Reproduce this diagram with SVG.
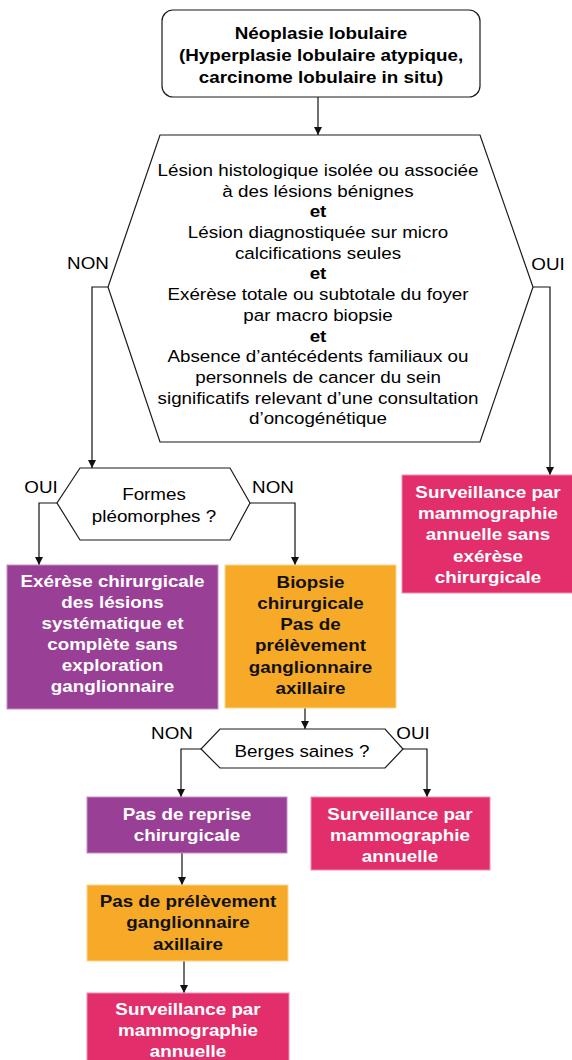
<svg xmlns="http://www.w3.org/2000/svg" width="572" height="1060" viewBox="0 0 572 1060">
  <style>
    text { font-family: "Liberation Sans", Arial, sans-serif; font-size: 16.5px; text-anchor: middle; }
    .b { font-weight: bold; }
    .w { fill: #ffffff; font-weight: bold; }
    .k { fill: #111111; font-weight: bold; }
    .shape { fill: #ffffff; stroke: #1a1a1a; stroke-width: 1.2; }
    .purple { fill: #9a3f96; stroke: #c58fc2; stroke-width: 1; }
    .orange { fill: #f7aa27; stroke: #fcd590; stroke-width: 1; }
    .pink { fill: #e22f6b; stroke: #f08fb0; stroke-width: 1; }
    .link { fill: none; stroke: #111111; stroke-width: 1.2; marker-end: url(#arrow); }
  </style>
  <defs>
    <marker id="arrow" markerUnits="userSpaceOnUse" markerWidth="9" markerHeight="9" refX="8" refY="4" orient="auto">
      <path d="M0,0 L8,4 L0,8 Z" fill="#111111"/>
    </marker>
  </defs>
  <rect width="572" height="1060" fill="#ffffff"/>

  <!-- connectors -->
  <g id="connectors">
    <path class="link" d="M318,97 V135"/>
    <path class="link" d="M108,287 H92 V468"/>
    <path class="link" d="M533,287 H550 V475"/>
    <path class="link" d="M57,503 H39 V565"/>
    <path class="link" d="M250,503 H295 V565"/>
    <path class="link" d="M305,708 V729"/>
    <path class="link" d="M201,749 H181 V797"/>
    <path class="link" d="M403,749 H427 V797"/>
    <path class="link" d="M182,853 V885"/>
    <path class="link" d="M184,961 V993"/>
  </g>

  <!-- branch labels -->
  <g id="labels">
    <g transform="translate(88 0) scale(1.14 1)"><text x="0" y="269">NON</text></g>
    <g transform="translate(548 0) scale(1.14 1)"><text x="0" y="270">OUI</text></g>
    <g transform="translate(41 0) scale(1.14 1)"><text x="0" y="493">OUI</text></g>
    <g transform="translate(273 0) scale(1.14 1)"><text x="0" y="493">NON</text></g>
    <g transform="translate(172 0) scale(1.14 1)"><text x="0" y="739">NON</text></g>
    <g transform="translate(413 0) scale(1.14 1)"><text x="0" y="739">OUI</text></g>
  </g>

  <!-- start -->
  <g id="node-start">
    <rect class="shape" x="162" y="10" width="318" height="87" rx="11"/>
    <g transform="translate(321 0) scale(1.14 1)">
      <text class="b" x="0" y="39">Néoplasie lobulaire</text>
      <text class="b" x="0" y="61">(Hyperplasie lobulaire atypique,</text>
      <text class="b" x="0" y="83">carcinome lobulaire in situ)</text>
    </g>
  </g>

  <!-- criteria -->
  <g id="node-criteria">
    <polygon class="shape" points="160,135 480,135 533,287 480,442 160,442 108,287"/>
    <g transform="translate(318 0) scale(1.14 1)">
      <text x="0" y="176">Lésion histologique isolée ou associée</text>
      <text x="0" y="196.7">à des lésions bénignes</text>
      <text class="b" x="0" y="217.4">et</text>
      <text x="0" y="238.1">Lésion diagnostiquée sur micro</text>
      <text x="0" y="258.8">calcifications seules</text>
      <text class="b" x="0" y="279.5">et</text>
      <text x="0" y="300.2">Exérèse totale ou subtotale du foyer</text>
      <text x="0" y="320.9">par macro biopsie</text>
      <text class="b" x="0" y="341.6">et</text>
      <text x="0" y="362.3">Absence d’antécédents familiaux ou</text>
      <text x="0" y="383">personnels de cancer du sein</text>
      <text x="0" y="403.7">significatifs relevant d’une consultation</text>
      <text x="0" y="424.4">d’oncogénétique</text>
    </g>
  </g>

  <!-- pleomorphic question -->
  <g id="node-pleomorphic">
    <polygon class="shape" points="80,468 230,468 250,503 230,540 80,540 57,503"/>
    <g transform="translate(154 0) scale(1.14 1)">
      <text x="0" y="500">Formes</text>
      <text x="0" y="522">pléomorphes ?</text>
    </g>
  </g>

  <!-- surveillance without excision -->
  <g id="node-surveillance-1">
    <rect class="pink" x="402" y="475" width="172" height="118"/>
    <g transform="translate(488 0) scale(1.14 1)">
      <text class="w" x="0" y="498">Surveillance par</text>
      <text class="w" x="0" y="519">mammographie</text>
      <text class="w" x="0" y="540.5">annuelle sans</text>
      <text class="w" x="0" y="562">exérèse</text>
      <text class="w" x="0" y="583">chirurgicale</text>
    </g>
  </g>

  <!-- surgical excision -->
  <g id="node-excision">
    <rect class="purple" x="7" y="565" width="211" height="144"/>
    <g transform="translate(112.5 0) scale(1.14 1)">
      <text class="w" x="0" y="587">Exérèse chirurgicale</text>
      <text class="w" x="0" y="608">des lésions</text>
      <text class="w" x="0" y="629">systématique et</text>
      <text class="w" x="0" y="650">complète sans</text>
      <text class="w" x="0" y="671">exploration</text>
      <text class="w" x="0" y="692">ganglionnaire</text>
    </g>
  </g>

  <!-- surgical biopsy -->
  <g id="node-biopsy">
    <rect class="orange" x="225" y="565" width="171" height="143"/>
    <g transform="translate(310.5 0) scale(1.14 1)">
      <text class="k" x="0" y="588">Biopsie</text>
      <text class="k" x="0" y="609">chirurgicale</text>
      <text class="k" x="0" y="630.5">Pas de</text>
      <text class="k" x="0" y="651.5">prélèvement</text>
      <text class="k" x="0" y="673">ganglionnaire</text>
      <text class="k" x="0" y="694">axillaire</text>
    </g>
  </g>

  <!-- margins question -->
  <g id="node-margins">
    <polygon class="shape" points="220,729 385,729 403,749 385,768 220,768 201,749"/>
    <g transform="translate(302 0) scale(1.14 1)">
      <text x="0" y="757">Berges saines ?</text>
    </g>
  </g>

  <!-- no re-excision -->
  <g id="node-no-reexcision">
    <rect class="purple" x="87" y="797" width="200" height="56"/>
    <g transform="translate(187 0) scale(1.14 1)">
      <text class="w" x="0" y="820">Pas de reprise</text>
      <text class="w" x="0" y="841">chirurgicale</text>
    </g>
  </g>

  <!-- surveillance after healthy margins -->
  <g id="node-surveillance-2">
    <rect class="pink" x="311" y="797" width="179" height="73"/>
    <g transform="translate(400 0) scale(1.14 1)">
      <text class="w" x="0" y="820">Surveillance par</text>
      <text class="w" x="0" y="841">mammographie</text>
      <text class="w" x="0" y="862">annuelle</text>
    </g>
  </g>

  <!-- no axillary sampling -->
  <g id="node-no-sampling">
    <rect class="orange" x="87" y="885" width="201" height="76"/>
    <g transform="translate(188 0) scale(1.14 1)">
      <text class="k" x="0" y="907">Pas de prélèvement</text>
      <text class="k" x="0" y="928">ganglionnaire</text>
      <text class="k" x="0" y="950">axillaire</text>
    </g>
  </g>

  <!-- final surveillance -->
  <g id="node-surveillance-3">
    <rect class="pink" x="87" y="993" width="202" height="72"/>
    <g transform="translate(188 0) scale(1.14 1)">
      <text class="w" x="0" y="1015">Surveillance par</text>
      <text class="w" x="0" y="1036">mammographie</text>
      <text class="w" x="0" y="1057">annuelle</text>
    </g>
  </g>
</svg>
